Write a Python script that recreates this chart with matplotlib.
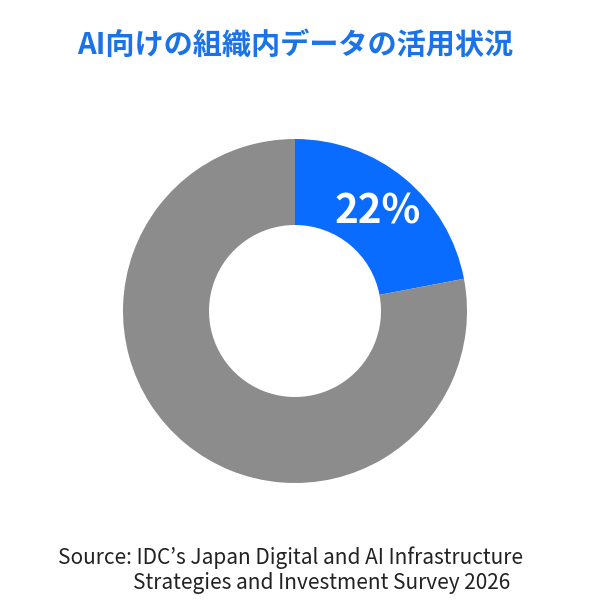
import matplotlib.pyplot as plt

plt.rcParams['font.family'] = ['Noto Sans CJK JP', 'DejaVu Sans']

# data
labels = ['活用している', 'その他']
shares = [22, 78]
colors = ['#0a6cff', '#8c8c8c']
title = 'AI向けの組織内データの活用状況'
source_1 = 'Source: IDC’s Japan Digital and AI Infrastructure'
source_2 = 'Strategies and Investment Survey 2026'

W, H = 590, 611
fig = plt.figure(figsize=(W / 100, H / 100), dpi=100)

# donut: centre (295, 311) px, outer radius 172 px
cx, cy, r = 295, 311, 172
ax = fig.add_axes([(cx - r) / W, (H - cy - r) / H, 2 * r / W, 2 * r / H])
wedges, texts, autotexts = ax.pie(
    shares, colors=colors, startangle=90, counterclock=False,
    radius=1, wedgeprops=dict(width=0.5, linewidth=0),
    autopct='%d%%', pctdistance=0.75,
    textprops=dict(color='white', fontsize=29, fontweight='semibold'))
autotexts[1].set_visible(False)
ax.set_xlim(-1, 1)
ax.set_ylim(-1, 1)
ax.set_aspect('equal')
ax.axis('off')

fig.text(0.5, 1 - 45 / H, title, ha='center', va='center',
         fontsize=21, fontweight='bold', color='#1a73e8')
fig.text(58 / W, 1 - 558 / H, source_1, ha='left', va='center',
         fontsize=15, color='#222222')
fig.text(133 / W, 1 - 583 / H, source_2, ha='left', va='center',
         fontsize=15, color='#222222')

fig.savefig('out.png', dpi=100)
